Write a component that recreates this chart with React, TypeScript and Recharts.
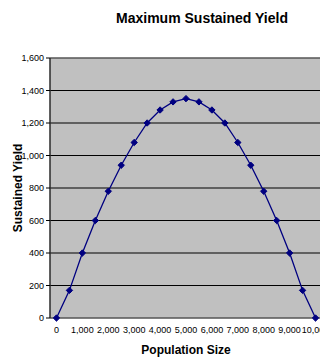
import React from "react";
import {
  LineChart,
  Line,
  XAxis,
  YAxis,
  CartesianGrid,
  ReferenceArea,
  Label,
} from "recharts";

const populations = [
  0, 500, 1000, 1500, 2000, 2500, 3000, 3500, 4000, 4500, 5000, 5500, 6000,
  6500, 7000, 7500, 8000, 8500, 9000, 9500, 10000,
];
const yields = [
  0, 170, 400, 600, 780, 940, 1080, 1200, 1280, 1330, 1350, 1330, 1280, 1200,
  1080, 940, 780, 600, 400, 170, 0,
];
const xLabelTicks = [0, 1000, 2000, 3000, 4000, 5000, 6000, 7000, 8000, 9000, 10000];
const xMarkTicks = [
  -250, 250, 750, 1250, 1750, 2250, 2750, 3250, 3750, 4250, 4750, 5250, 5750,
  6250, 6750, 7250, 7750, 8250, 8750, 9250, 9750, 10250,
];
const yTicks = [0, 200, 400, 600, 800, 1000, 1200, 1400, 1600];

const data = populations.map((p, i) => ({ pop: p, yield: yields[i] }));

const fmt = (v: number) => v.toLocaleString("en-US");

const Diamond = (props: any) => {
  const { cx, cy } = props;
  if (cx == null || cy == null) return null;
  const r = 3.2;
  return (
    <polygon
      points={`${cx},${cy - r} ${cx + r},${cy} ${cx},${cy + r} ${cx - r},${cy}`}
      fill="#000080"
      stroke="#000080"
    />
  );
};

const App: React.FC = () => (
  <div style={{ fontFamily: "Arial, 'Liberation Sans', sans-serif" }}>
    <div
      style={{
        position: "relative",
        width: 320,
        height: 350,
      }}
    >
      <div
        style={{
          position: "absolute",
          top: 2,
          left: 104,
          width: 180,
          textAlign: "center",
          fontWeight: "bold",
          fontSize: 14,
          color: "#000",
        }}
      >
        Maximum Sustained Yield
      </div>
      <LineChart
        width={320}
        height={350}
        data={data}
        margin={{ top: 50, right: 6, bottom: 0, left: 0 }}
      >
        <CartesianGrid
          vertical={false}
          stroke="#000"
          strokeWidth={1}
          fill="#C0C0C0"
          fillOpacity={1}
          xAxisId="marks"
        />
        <ReferenceArea
          x1={-250}
          x2={10250}
          y1={0}
          y2={1600}
          xAxisId="marks"
          fill="none"
          stroke="#808080"
          strokeWidth={1}
        />
        <XAxis
          xAxisId="marks"
          dataKey="pop"
          type="number"
          domain={[-250, 10250]}
          ticks={xMarkTicks}
          tick={false}
          tickSize={4}
          interval={0}
          axisLine={{ stroke: "#000" }}
          tickLine={{ stroke: "#000" }}
          height={0}
        />
        <XAxis
          xAxisId="labels"
          dataKey="pop"
          type="number"
          domain={[-250, 10250]}
          ticks={xLabelTicks}
          interval={0}
          tickFormatter={fmt}
          tickLine={false}
          axisLine={false}
          tick={{ fontSize: 9, fill: "#000" }}
          tickMargin={3}
          height={40}
        >
          <Label
            value="Population Size"
            position="insideBottom"
            offset={4}
            style={{ fontWeight: "bold", fontSize: 12, fill: "#000" }}
          />
        </XAxis>
        <YAxis
          type="number"
          domain={[0, 1600]}
          ticks={yTicks}
          interval={0}
          tickFormatter={fmt}
          width={42}
          tickSize={4}
          tickMargin={2}
          axisLine={{ stroke: "#000" }}
          tickLine={{ stroke: "#000" }}
          tick={{ fontSize: 9, fill: "#000" }}
        >
          <Label
            value="Sustained Yield"
            angle={-90}
            position="insideLeft"
            offset={10}
            style={{ fontWeight: "bold", fontSize: 12, fill: "#000", textAnchor: "middle" }}
          />
        </YAxis>
        <Line
          xAxisId="marks"
          type="linear"
          dataKey="yield"
          stroke="#000080"
          strokeWidth={1.3}
          dot={<Diamond />}
          activeDot={false}
          isAnimationActive={false}
        />
      </LineChart>
    </div>
  </div>
);

export default App;
